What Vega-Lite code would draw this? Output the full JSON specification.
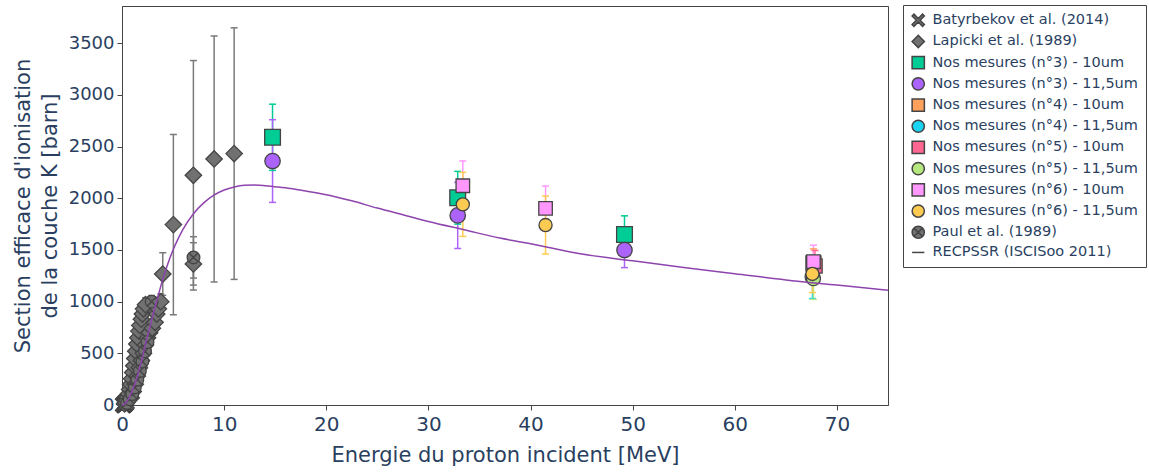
{
  "$schema": "https://vega.github.io/schema/vega-lite/v6.json",
  "width": 766,
  "height": 399,
  "autosize": {"type": "none"},
  "padding": {"left": 122, "top": 6, "right": 261, "bottom": 69},
  "background": "white",
  "config": {
    "font": "DejaVu Sans",
    "view": {"stroke": "#444444", "strokeWidth": 1}
  },
  "datasets": {
    "pts": [
      {"series": "Batyrbekov et al. (2014)", "E": 0.15, "s": 2, "lo": 1, "hi": 3},
      {"series": "Batyrbekov et al. (2014)", "E": 0.2, "s": 4, "lo": 3, "hi": 5},
      {"series": "Batyrbekov et al. (2014)", "E": 0.25, "s": 8, "lo": 6, "hi": 10},
      {"series": "Batyrbekov et al. (2014)", "E": 0.3, "s": 13, "lo": 11, "hi": 15},
      {"series": "Batyrbekov et al. (2014)", "E": 0.35, "s": 20, "lo": 17, "hi": 23},
      {"series": "Batyrbekov et al. (2014)", "E": 0.4, "s": 28, "lo": 24, "hi": 32},
      {"series": "Lapicki et al. (1989)", "E": 0.25, "s": 10, "lo": 8, "hi": 12},
      {"series": "Lapicki et al. (1989)", "E": 0.35, "s": 25, "lo": 22, "hi": 28},
      {"series": "Lapicki et al. (1989)", "E": 0.45, "s": 45, "lo": 41, "hi": 49},
      {"series": "Lapicki et al. (1989)", "E": 0.55, "s": 75, "lo": 69, "hi": 81},
      {"series": "Lapicki et al. (1989)", "E": 0.65, "s": 110, "lo": 102, "hi": 118},
      {"series": "Lapicki et al. (1989)", "E": 0.75, "s": 150, "lo": 140, "hi": 160},
      {"series": "Lapicki et al. (1989)", "E": 0.85, "s": 200, "lo": 186, "hi": 214},
      {"series": "Lapicki et al. (1989)", "E": 0.95, "s": 255, "lo": 237, "hi": 273},
      {"series": "Lapicki et al. (1989)", "E": 1.05, "s": 315, "lo": 293, "hi": 337},
      {"series": "Lapicki et al. (1989)", "E": 1.15, "s": 380, "lo": 354, "hi": 406},
      {"series": "Lapicki et al. (1989)", "E": 1.25, "s": 450, "lo": 420, "hi": 480},
      {"series": "Lapicki et al. (1989)", "E": 1.35, "s": 520, "lo": 485, "hi": 555},
      {"series": "Lapicki et al. (1989)", "E": 1.45, "s": 590, "lo": 550, "hi": 630},
      {"series": "Lapicki et al. (1989)", "E": 1.55, "s": 650, "lo": 605, "hi": 695},
      {"series": "Lapicki et al. (1989)", "E": 1.65, "s": 715, "lo": 665, "hi": 765},
      {"series": "Lapicki et al. (1989)", "E": 1.75, "s": 770, "lo": 716, "hi": 824},
      {"series": "Lapicki et al. (1989)", "E": 1.9, "s": 830, "lo": 772, "hi": 888},
      {"series": "Lapicki et al. (1989)", "E": 2.0, "s": 880, "lo": 820, "hi": 940},
      {"series": "Lapicki et al. (1989)", "E": 2.1, "s": 930, "lo": 865, "hi": 995},
      {"series": "Lapicki et al. (1989)", "E": 2.3, "s": 970, "lo": 902, "hi": 1038},
      {"series": "Lapicki et al. (1989)", "E": 0.9, "s": 70, "lo": 64, "hi": 76},
      {"series": "Lapicki et al. (1989)", "E": 1.1, "s": 130, "lo": 120, "hi": 140},
      {"series": "Lapicki et al. (1989)", "E": 1.3, "s": 200, "lo": 185, "hi": 215},
      {"series": "Lapicki et al. (1989)", "E": 1.5, "s": 280, "lo": 260, "hi": 300},
      {"series": "Lapicki et al. (1989)", "E": 1.7, "s": 360, "lo": 335, "hi": 385},
      {"series": "Lapicki et al. (1989)", "E": 1.9, "s": 430, "lo": 400, "hi": 460},
      {"series": "Lapicki et al. (1989)", "E": 2.1, "s": 500, "lo": 465, "hi": 535},
      {"series": "Lapicki et al. (1989)", "E": 2.3, "s": 580, "lo": 540, "hi": 620},
      {"series": "Lapicki et al. (1989)", "E": 2.5, "s": 650, "lo": 605, "hi": 695},
      {"series": "Lapicki et al. (1989)", "E": 2.7, "s": 700, "lo": 650, "hi": 750},
      {"series": "Lapicki et al. (1989)", "E": 2.97, "s": 742, "lo": 687, "hi": 797},
      {"series": "Lapicki et al. (1989)", "E": 3.24, "s": 800, "lo": 740, "hi": 860},
      {"series": "Lapicki et al. (1989)", "E": 3.4, "s": 880, "lo": 815, "hi": 945},
      {"series": "Lapicki et al. (1989)", "E": 3.56, "s": 930, "lo": 860, "hi": 1000},
      {"series": "Lapicki et al. (1989)", "E": 3.79, "s": 1000, "lo": 925, "hi": 1075},
      {"series": "Lapicki et al. (1989)", "E": 3.99, "s": 1267, "lo": 1061, "hi": 1473},
      {"series": "Lapicki et al. (1989)", "E": 5.03, "s": 1745, "lo": 873, "hi": 2617},
      {"series": "Lapicki et al. (1989)", "E": 6.99, "s": 2222, "lo": 1112, "hi": 3332},
      {"series": "Lapicki et al. (1989)", "E": 6.99, "s": 1365, "lo": 1160, "hi": 1570},
      {"series": "Lapicki et al. (1989)", "E": 9.02, "s": 2380, "lo": 1190, "hi": 3570},
      {"series": "Lapicki et al. (1989)", "E": 10.98, "s": 2432, "lo": 1215, "hi": 3649},
      {"series": "Nos mesures (n°3) - 10um", "E": 14.74, "s": 2590, "lo": 2270, "hi": 2910},
      {"series": "Nos mesures (n°3) - 10um", "E": 32.87, "s": 2005, "lo": 1750, "hi": 2260},
      {"series": "Nos mesures (n°3) - 10um", "E": 49.2, "s": 1650, "lo": 1470, "hi": 1830},
      {"series": "Nos mesures (n°3) - 11,5um", "E": 14.74, "s": 2360, "lo": 1960, "hi": 2760},
      {"series": "Nos mesures (n°3) - 11,5um", "E": 32.87, "s": 1834, "lo": 1514, "hi": 2154},
      {"series": "Nos mesures (n°3) - 11,5um", "E": 49.2, "s": 1499, "lo": 1329, "hi": 1669},
      {"series": "Nos mesures (n°4) - 10um", "E": 67.7, "s": 1370, "lo": 1230, "hi": 1510},
      {"series": "Nos mesures (n°4) - 11,5um", "E": 67.6, "s": 1240, "lo": 1030, "hi": 1450},
      {"series": "Nos mesures (n°5) - 10um", "E": 67.85, "s": 1345, "lo": 1195, "hi": 1495},
      {"series": "Nos mesures (n°5) - 11,5um", "E": 67.7, "s": 1222, "lo": 1022, "hi": 1422},
      {"series": "Nos mesures (n°6) - 10um", "E": 33.37, "s": 2121, "lo": 1881, "hi": 2361},
      {"series": "Nos mesures (n°6) - 10um", "E": 41.47, "s": 1902, "lo": 1686, "hi": 2118},
      {"series": "Nos mesures (n°6) - 10um", "E": 67.7, "s": 1386, "lo": 1226, "hi": 1546},
      {"series": "Nos mesures (n°6) - 11,5um", "E": 33.37, "s": 1941, "lo": 1631, "hi": 2251},
      {"series": "Nos mesures (n°6) - 11,5um", "E": 41.47, "s": 1741, "lo": 1461, "hi": 2021},
      {"series": "Nos mesures (n°6) - 11,5um", "E": 67.6, "s": 1268, "lo": 1088, "hi": 1448},
      {"series": "Paul et al. (1989)", "E": 0.5, "s": 20, "lo": 18, "hi": 22},
      {"series": "Paul et al. (1989)", "E": 0.75, "s": 55, "lo": 50, "hi": 60},
      {"series": "Paul et al. (1989)", "E": 1.0, "s": 105, "lo": 96, "hi": 114},
      {"series": "Paul et al. (1989)", "E": 1.25, "s": 170, "lo": 156, "hi": 184},
      {"series": "Paul et al. (1989)", "E": 1.5, "s": 245, "lo": 225, "hi": 265},
      {"series": "Paul et al. (1989)", "E": 1.75, "s": 330, "lo": 303, "hi": 357},
      {"series": "Paul et al. (1989)", "E": 2.0, "s": 420, "lo": 386, "hi": 454},
      {"series": "Paul et al. (1989)", "E": 2.25, "s": 520, "lo": 478, "hi": 562},
      {"series": "Paul et al. (1989)", "E": 2.5, "s": 610, "lo": 561, "hi": 659},
      {"series": "Paul et al. (1989)", "E": 2.9, "s": 1000, "lo": 940, "hi": 1060},
      {"series": "Paul et al. (1989)", "E": 7.0, "s": 1428, "lo": 1228, "hi": 1628}
    ],
    "curve": [
      {"series": "RECPSSR (ISCISoo 2011)", "E": 0, "s": 0},
      {"series": "RECPSSR (ISCISoo 2011)", "E": 0.25, "s": 8},
      {"series": "RECPSSR (ISCISoo 2011)", "E": 0.5, "s": 35},
      {"series": "RECPSSR (ISCISoo 2011)", "E": 0.75, "s": 80},
      {"series": "RECPSSR (ISCISoo 2011)", "E": 1.0, "s": 140},
      {"series": "RECPSSR (ISCISoo 2011)", "E": 1.25, "s": 200},
      {"series": "RECPSSR (ISCISoo 2011)", "E": 1.5, "s": 280},
      {"series": "RECPSSR (ISCISoo 2011)", "E": 1.75, "s": 370},
      {"series": "RECPSSR (ISCISoo 2011)", "E": 2.0, "s": 460},
      {"series": "RECPSSR (ISCISoo 2011)", "E": 2.25, "s": 570},
      {"series": "RECPSSR (ISCISoo 2011)", "E": 2.5, "s": 670},
      {"series": "RECPSSR (ISCISoo 2011)", "E": 2.75, "s": 760},
      {"series": "RECPSSR (ISCISoo 2011)", "E": 3.0, "s": 860},
      {"series": "RECPSSR (ISCISoo 2011)", "E": 3.5, "s": 1040},
      {"series": "RECPSSR (ISCISoo 2011)", "E": 4.0, "s": 1220},
      {"series": "RECPSSR (ISCISoo 2011)", "E": 4.5, "s": 1370},
      {"series": "RECPSSR (ISCISoo 2011)", "E": 5.0, "s": 1500},
      {"series": "RECPSSR (ISCISoo 2011)", "E": 5.5, "s": 1610},
      {"series": "RECPSSR (ISCISoo 2011)", "E": 6.0, "s": 1705},
      {"series": "RECPSSR (ISCISoo 2011)", "E": 7.0, "s": 1850},
      {"series": "RECPSSR (ISCISoo 2011)", "E": 8.0, "s": 1955},
      {"series": "RECPSSR (ISCISoo 2011)", "E": 9.0, "s": 2030},
      {"series": "RECPSSR (ISCISoo 2011)", "E": 10.0, "s": 2080},
      {"series": "RECPSSR (ISCISoo 2011)", "E": 11.0, "s": 2110},
      {"series": "RECPSSR (ISCISoo 2011)", "E": 12.0, "s": 2125},
      {"series": "RECPSSR (ISCISoo 2011)", "E": 13.0, "s": 2128},
      {"series": "RECPSSR (ISCISoo 2011)", "E": 14.0, "s": 2122},
      {"series": "RECPSSR (ISCISoo 2011)", "E": 15.0, "s": 2112},
      {"series": "RECPSSR (ISCISoo 2011)", "E": 16.5, "s": 2095},
      {"series": "RECPSSR (ISCISoo 2011)", "E": 18.0, "s": 2070},
      {"series": "RECPSSR (ISCISoo 2011)", "E": 20.0, "s": 2035},
      {"series": "RECPSSR (ISCISoo 2011)", "E": 22.5, "s": 1975},
      {"series": "RECPSSR (ISCISoo 2011)", "E": 25.0, "s": 1905},
      {"series": "RECPSSR (ISCISoo 2011)", "E": 27.5, "s": 1840},
      {"series": "RECPSSR (ISCISoo 2011)", "E": 30.0, "s": 1775},
      {"series": "RECPSSR (ISCISoo 2011)", "E": 33.5, "s": 1695},
      {"series": "RECPSSR (ISCISoo 2011)", "E": 37.0, "s": 1615},
      {"series": "RECPSSR (ISCISoo 2011)", "E": 40.0, "s": 1560},
      {"series": "RECPSSR (ISCISoo 2011)", "E": 45.0, "s": 1460},
      {"series": "RECPSSR (ISCISoo 2011)", "E": 50.0, "s": 1395},
      {"series": "RECPSSR (ISCISoo 2011)", "E": 55.0, "s": 1330},
      {"series": "RECPSSR (ISCISoo 2011)", "E": 60.0, "s": 1270},
      {"series": "RECPSSR (ISCISoo 2011)", "E": 65.0, "s": 1210},
      {"series": "RECPSSR (ISCISoo 2011)", "E": 70.0, "s": 1160},
      {"series": "RECPSSR (ISCISoo 2011)", "E": 75.0, "s": 1110}
    ]
  },
  "encoding": {
    "x": {
      "field": "E", "type": "quantitative",
      "scale": {"domain": [0, 75], "nice": false, "zero": false},
      "axis": {
        "title": "Energie du proton incident [MeV]",
        "values": [0, 10, 20, 30, 40, 50, 60, 70],
        "grid": false, "labelFlush": false,
        "domainColor": "#444444", "tickColor": "#444444", "tickSize": 5,
        "labelFontSize": 20, "labelColor": "#2a3f5f", "labelPadding": 4,
        "titleFontSize": 21, "titleFontWeight": "normal", "titleColor": "#2a3f5f", "titlePadding": 10
      }
    }
  },
  "layer": [
    {
      "data": {"name": "pts"},
      "mark": {"type": "rule", "strokeWidth": 1.5, "opacity": 1},
      "encoding": {
        "y": {
          "field": "lo", "type": "quantitative",
          "scale": {"domain": [0, 3860], "nice": false},
          "axis": {
            "title": ["Section efficace d'ionisation", "de la couche K [barn]"],
            "values": [0, 500, 1000, 1500, 2000, 2500, 3000, 3500],
            "format": "d",
            "grid": false,
            "domainColor": "#444444", "tickColor": "#444444", "tickSize": 5,
            "labelFontSize": 18, "labelColor": "#2a3f5f", "labelPadding": 3,
            "titleFontSize": 21, "titleFontWeight": "normal", "titleColor": "#2a3f5f",
            "titleLineHeight": 27, "titlePadding": 8
          }
        },
        "y2": {"field": "hi"},
        "stroke": {
          "field": "series", "type": "nominal", "legend": null,
          "scale": {
            "domain": ["RECPSSR (ISCISoo 2011)", "Batyrbekov et al. (2014)", "Lapicki et al. (1989)", "Nos mesures (n°3) - 10um", "Nos mesures (n°3) - 11,5um", "Nos mesures (n°4) - 10um", "Nos mesures (n°4) - 11,5um", "Nos mesures (n°5) - 10um", "Nos mesures (n°5) - 11,5um", "Nos mesures (n°6) - 10um", "Nos mesures (n°6) - 11,5um", "Paul et al. (1989)"],
            "range": ["#8E44AD", "#7a7a7a", "#7a7a7a", "#00cc96", "#ab63fa", "#FFA15A", "#19d3f3", "#FF6692", "#B6E880", "#FF97FF", "#FECB52", "#7a7a7a"]
          }
        }
      }
    },
    {
      "data": {"name": "pts"},
      "mark": {"type": "tick", "orient": "horizontal", "size": 7, "thickness": 1.5, "opacity": 1},
      "encoding": {
        "y": {"field": "lo", "type": "quantitative"},
        "fill": {
          "field": "series", "type": "nominal", "legend": null,
          "scale": {
            "domain": ["RECPSSR (ISCISoo 2011)", "Batyrbekov et al. (2014)", "Lapicki et al. (1989)", "Nos mesures (n°3) - 10um", "Nos mesures (n°3) - 11,5um", "Nos mesures (n°4) - 10um", "Nos mesures (n°4) - 11,5um", "Nos mesures (n°5) - 10um", "Nos mesures (n°5) - 11,5um", "Nos mesures (n°6) - 10um", "Nos mesures (n°6) - 11,5um", "Paul et al. (1989)"],
            "range": ["#8E44AD", "#7a7a7a", "#7a7a7a", "#00cc96", "#ab63fa", "#FFA15A", "#19d3f3", "#FF6692", "#B6E880", "#FF97FF", "#FECB52", "#7a7a7a"]
          }
        }
      }
    },
    {
      "data": {"name": "pts"},
      "mark": {"type": "tick", "orient": "horizontal", "size": 7, "thickness": 1.5, "opacity": 1},
      "encoding": {
        "y": {"field": "hi", "type": "quantitative"},
        "fill": {
          "field": "series", "type": "nominal", "legend": null,
          "scale": {
            "domain": ["RECPSSR (ISCISoo 2011)", "Batyrbekov et al. (2014)", "Lapicki et al. (1989)", "Nos mesures (n°3) - 10um", "Nos mesures (n°3) - 11,5um", "Nos mesures (n°4) - 10um", "Nos mesures (n°4) - 11,5um", "Nos mesures (n°5) - 10um", "Nos mesures (n°5) - 11,5um", "Nos mesures (n°6) - 10um", "Nos mesures (n°6) - 11,5um", "Paul et al. (1989)"],
            "range": ["#8E44AD", "#7a7a7a", "#7a7a7a", "#00cc96", "#ab63fa", "#FFA15A", "#19d3f3", "#FF6692", "#B6E880", "#FF97FF", "#FECB52", "#7a7a7a"]
          }
        }
      }
    },
    {
      "data": {"name": "pts"},
      "mark": {"type": "point", "filled": true, "opacity": 1, "stroke": "#444444", "strokeWidth": 1.3},
      "encoding": {
        "y": {"field": "s", "type": "quantitative"},
        "color": {
          "field": "series", "type": "nominal",
          "scale": {
            "domain": ["Batyrbekov et al. (2014)", "Lapicki et al. (1989)", "Nos mesures (n°3) - 10um", "Nos mesures (n°3) - 11,5um", "Nos mesures (n°4) - 10um", "Nos mesures (n°4) - 11,5um", "Nos mesures (n°5) - 10um", "Nos mesures (n°5) - 11,5um", "Nos mesures (n°6) - 10um", "Nos mesures (n°6) - 11,5um", "Paul et al. (1989)", "RECPSSR (ISCISoo 2011)"],
            "range": ["#717171", "#717171", "#00cc96", "#ab63fa", "#FFA15A", "#19d3f3", "#FF6692", "#B6E880", "#FF97FF", "#FECB52", "#717171", "#8E44AD"]
          },
          "legend": {
            "orient": "none", "legendX": 781, "legendY": -1, "title": null,
            "strokeColor": "#444444", "fillColor": "white", "padding": 8,
            "labelFontSize": 14.5, "labelColor": "#2a3f5f", "labelOffset": 7,
            "symbolSize": 150, "rowPadding": 2.2, "labelLimit": 300
          }
        },
        "size": {
          "field": "series", "type": "nominal", "legend": null,
          "scale": {
            "domain": ["Lapicki et al. (1989)", "Batyrbekov et al. (2014)", "Nos mesures (n°3) - 10um", "Nos mesures (n°3) - 11,5um", "Nos mesures (n°4) - 10um", "Nos mesures (n°4) - 11,5um", "Nos mesures (n°5) - 10um", "Nos mesures (n°5) - 11,5um", "Nos mesures (n°6) - 10um", "Nos mesures (n°6) - 11,5um", "Paul et al. (1989)", "RECPSSR (ISCISoo 2011)"],
            "range": [270, 150, 150, 150, 150, 150, 150, 150, 150, 150, 150, 150]
          }
        },
        "shape": {
          "field": "series", "type": "nominal",
          "scale": {
            "domain": ["Batyrbekov et al. (2014)", "Lapicki et al. (1989)", "Nos mesures (n°3) - 10um", "Nos mesures (n°3) - 11,5um", "Nos mesures (n°4) - 10um", "Nos mesures (n°4) - 11,5um", "Nos mesures (n°5) - 10um", "Nos mesures (n°5) - 11,5um", "Nos mesures (n°6) - 10um", "Nos mesures (n°6) - 11,5um", "Paul et al. (1989)", "RECPSSR (ISCISoo 2011)"],
            "range": ["M-0.7,-1L0,-0.3L0.7,-1L1,-0.7L0.3,0L1,0.7L0.7,1L0,0.3L-0.7,1L-1,0.7L-0.3,0L-1,-0.7Z", "diamond", "square", "circle", "square", "circle", "square", "circle", "square", "circle", "M1,0A1,1 0 1,1 -1,0A1,1 0 1,1 1,0ZM-0.7,-0.7L0.7,0.7M0.7,-0.7L-0.7,0.7", "stroke"]
          },
          "legend": {
            "orient": "none", "legendX": 781, "legendY": -1, "title": null,
            "strokeColor": "#444444", "fillColor": "white", "padding": 8,
            "labelFontSize": 14.5, "labelColor": "#2a3f5f", "labelOffset": 7,
            "symbolSize": 150, "rowPadding": 2.2, "labelLimit": 300
          }
        }
      }
    },
    {
      "data": {"name": "curve"},
      "mark": {"type": "line", "strokeWidth": 1.5, "interpolate": "monotone"},
      "encoding": {
        "y": {"field": "s", "type": "quantitative"},
        "stroke": {
          "field": "series", "type": "nominal", "legend": null,
          "scale": {
            "domain": ["RECPSSR (ISCISoo 2011)", "Batyrbekov et al. (2014)", "Lapicki et al. (1989)", "Nos mesures (n°3) - 10um", "Nos mesures (n°3) - 11,5um", "Nos mesures (n°4) - 10um", "Nos mesures (n°4) - 11,5um", "Nos mesures (n°5) - 10um", "Nos mesures (n°5) - 11,5um", "Nos mesures (n°6) - 10um", "Nos mesures (n°6) - 11,5um", "Paul et al. (1989)"],
            "range": ["#8E44AD", "#7a7a7a", "#7a7a7a", "#00cc96", "#ab63fa", "#FFA15A", "#19d3f3", "#FF6692", "#B6E880", "#FF97FF", "#FECB52", "#7a7a7a"]
          }
        }
      }
    }
  ]
}
